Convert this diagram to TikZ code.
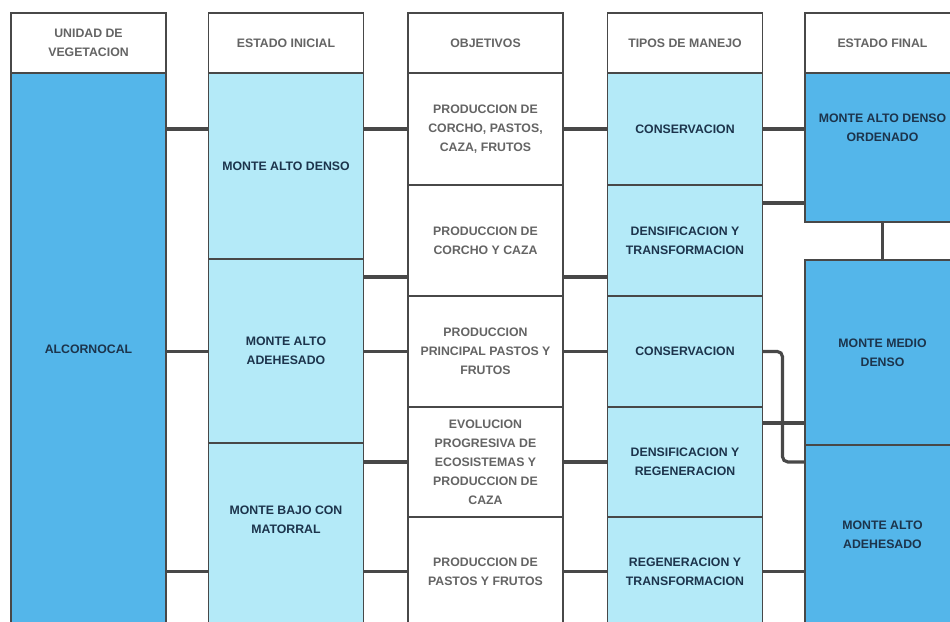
\documentclass[tikz,border=0pt]{standalone}
\usepackage{fontspec}
\setmainfont{Liberation Sans}
\usepackage{tikz}
\usetikzlibrary{positioning}
\definecolor{vegblue}{RGB}{84,182,234}
\definecolor{paleblue}{RGB}{180,234,248}
\definecolor{boxline}{RGB}{72,72,72}
\definecolor{headtext}{RGB}{100,100,100}
\definecolor{celltext}{RGB}{28,52,76}
\newcommand{\tabfont}{\fontsize{7}{10.8}\selectfont\bfseries}
\tikzstyle{headbox} = [rectangle, fill=white, draw=boxline, line width=1pt,
minimum width=3.1cm, minimum height=1.2cm, inner sep=0pt, outer sep=0pt,
align=center, font=\tabfont, text=headtext]
\tikzstyle{plainbox} = [headbox]
\tikzstyle{deepbox} = [headbox, fill=vegblue, text=celltext]
\tikzstyle{palebox} = [headbox, fill=paleblue, text=celltext]
\tikzstyle{shifttext} = [font=\tabfont, text=celltext, align=center]
\tikzstyle{link} = [line width=1.8pt, draw=boxline]

\begin{document}
\begin{tikzpicture}[x=0.02cm, y=-0.02cm, node distance=0pt]
    \useasboundingbox (0,0) rectangle (950,622);
    \clip (0,0) rectangle (950,622);

    % headers
    \node (hveg) [headbox] at (88.5,43) {UNIDAD DE\\VEGETACION};
    \node (hini) [headbox] at (286,43) {ESTADO INICIAL};
    \node (hobj) [headbox] at (485.5,43) {OBJETIVOS};
    \node (hman) [headbox] at (685,43) {TIPOS DE MANEJO};
    \node (hfin) [headbox] at (882.5,43) {ESTADO FINAL};

    % unidad de vegetacion
    \node (veg) [deepbox, below=of hveg, minimum height=11.04cm] {ALCORNOCAL};

    % estado inicial
    \node (ini1) [palebox, below=of hini, minimum height=3.72cm] {MONTE ALTO DENSO};
    \node (ini2) [palebox, below=of ini1, minimum height=3.68cm] {MONTE ALTO\\ADEHESADO};
    \node (ini3) [palebox, below=of ini2, minimum height=3.64cm,
    label={[shifttext, yshift=0.28cm]center:MONTE BAJO CON\\MATORRAL}] {};

    % objetivos
    \node (obj1) [plainbox, below=of hobj, minimum height=2.24cm]
    {PRODUCCION DE\\CORCHO, PASTOS,\\CAZA, FRUTOS};
    \node (obj2) [plainbox, below=of obj1, minimum height=2.22cm]
    {PRODUCCION DE\\CORCHO Y CAZA};
    \node (obj3) [plainbox, below=of obj2, minimum height=2.22cm]
    {PRODUCCION\\PRINCIPAL PASTOS Y\\FRUTOS};
    \node (obj4) [plainbox, below=of obj3, minimum height=2.2cm]
    {EVOLUCION\\PROGRESIVA DE\\ECOSISTEMAS Y\\PRODUCCION DE\\CAZA};
    \node (obj5) [plainbox, below=of obj4, minimum height=2.2cm]
    {PRODUCCION DE\\PASTOS Y FRUTOS};

    % tipos de manejo
    \node (man1) [palebox, below=of hman, minimum height=2.24cm] {CONSERVACION};
    \node (man2) [palebox, below=of man1, minimum height=2.22cm]
    {DENSIFICACION Y\\TRANSFORMACION};
    \node (man3) [palebox, below=of man2, minimum height=2.22cm] {CONSERVACION};
    \node (man4) [palebox, below=of man3, minimum height=2.2cm]
    {DENSIFICACION Y\\REGENERACION};
    \node (man5) [palebox, below=of man4, minimum height=2.2cm]
    {REGENERACION Y\\TRANSFORMACION};

    % estado final
    \node (fin1) [deepbox, below=of hfin, minimum height=2.98cm,
    label={[shifttext, yshift=0.39cm]center:MONTE ALTO DENSO\\ORDENADO}] {};
    \node (fin2) [deepbox, below=0.76cm of fin1, minimum height=3.7cm]
    {MONTE MEDIO\\DENSO};
    \node (fin3) [deepbox, below=of fin2, minimum height=3.6cm]
    {MONTE ALTO\\ADEHESADO};

    \coordinate (rowA) at (0,277);
    \coordinate (rowB) at (0,203);
    \coordinate (rowC) at (0,423);

    \draw[link] (veg.east |- obj1) -- (ini1.west |- obj1);
    \draw[link] (veg.east |- obj3) -- (ini2.west |- obj3);
    \draw[link] (veg.east |- obj5) -- (ini3.west |- obj5);

    \draw[link] (ini1.east |- obj1) -- (obj1.west);
    \draw[link] (ini2.east |- rowA) -- (obj2.west |- rowA);
    \draw[link] (ini2.east |- obj3) -- (obj3.west);
    \draw[link] (ini3.east |- obj4) -- (obj4.west);
    \draw[link] (ini3.east |- obj5) -- (obj5.west);

    \draw[link] (obj1) -- (man1);
    \draw[link] (obj2.east |- rowA) -- (man2.west |- rowA);
    \draw[link] (obj3) -- (man3);
    \draw[link] (obj4) -- (man4);
    \draw[link] (obj5) -- (man5);

    \draw[link] (man1) -- (fin1.west |- man1);
    \draw[link] (man2.east |- rowB) -- (fin1.west |- rowB);
    \draw[link] (man4.east |- rowC) -- (fin2.west |- rowC);
    \draw[link, rounded corners=3pt] (man3.east) -- ++(20,0) |- (fin3.west |- man4);
    \draw[link] (man5) -- (fin3.west |- man5);
    \draw[link] (fin1) -- (fin2);
\end{tikzpicture}
\end{document}
